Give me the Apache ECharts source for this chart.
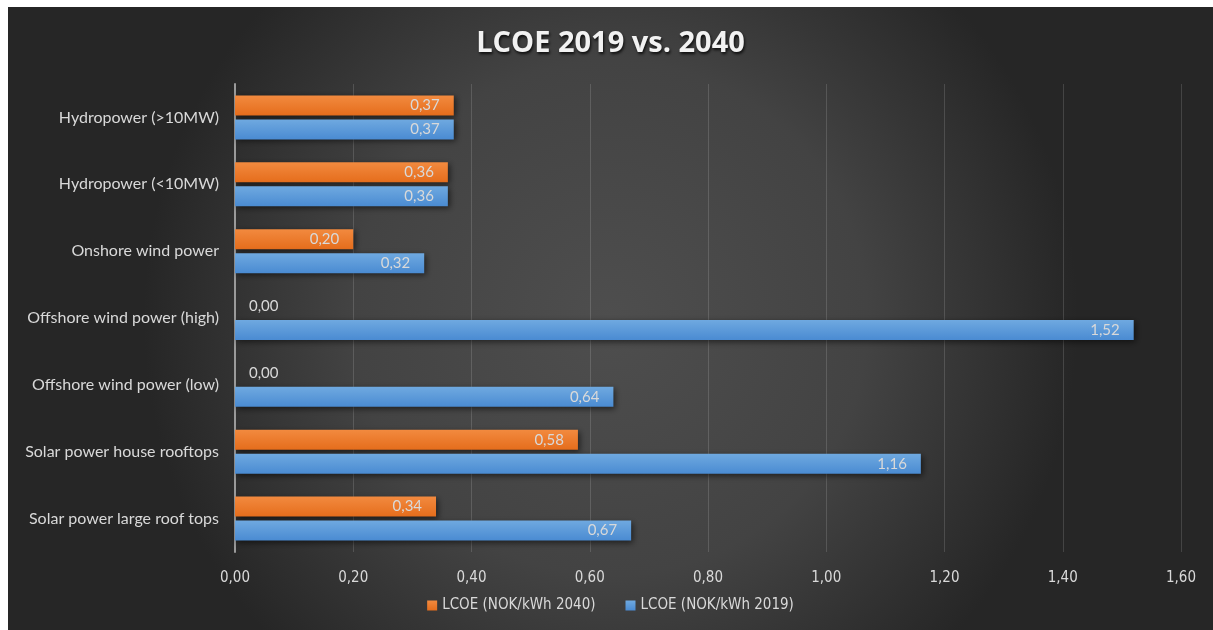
<!DOCTYPE html>
<html lang="en">
<head>
    <meta charset="UTF-8">
    <title>LCOE 2019 vs. 2040</title>
    <script src="https://cdn.jsdelivr.net/npm/echarts@6/dist/echarts.min.js"></script>
    <style>
        html, body { margin: 0; padding: 0; background: #ffffff; }
        #chart { position: absolute; left: 8px; top: 7px; width: 1205px; height: 623px; }
    </style>
</head>
<body>
<div id="chart"></div>
<script>
    // categories from top to bottom
    var categories = [
        'Hydropower (>10MW)',
        'Hydropower (<10MW)',
        'Onshore wind power',
        'Offshore wind power (high)',
        'Offshore wind power (low)',
        'Solar power house rooftops',
        'Solar power large roof tops'
    ]
    var lcoe2040 = [0.37, 0.36, 0.20, 0.00, 0.00, 0.58, 0.34]
    var lcoe2019 = [0.37, 0.36, 0.32, 1.52, 0.64, 1.16, 0.67]
    var xTicks = [0, 0.2, 0.4, 0.6, 0.8, 1.0, 1.2, 1.4, 1.6]

    var txt = '#d9d9d9'
    var narrow = '"DejaVu Sans Condensed", "Liberation Sans Narrow", Lato, sans-serif'
    var fmt = function (v) { return Number(v).toFixed(2).replace('.', ',') }

    function barData(values) {
        return values.map(function (v) {
            if (v === 0) {
                return { value: v, label: { position: 'right', distance: 14 } }
            }
            return v
        })
    }

    function grad(top, bottom) {
        return new echarts.graphic.LinearGradient(0, 0, 0, 1, [
            { offset: 0, color: top },
            { offset: 1, color: bottom }
        ])
    }

    var chart = echarts.init(document.getElementById('chart'))
    chart.setOption({
        backgroundColor: new echarts.graphic.RadialGradient(0.5, 0.5, 0.75, [
            { offset: 0, color: '#4e4e4e' },
            { offset: 0.55, color: '#434343' },
            { offset: 1, color: '#262626' }
        ]),
        title: {
            text: 'LCOE 2019 vs. 2040',
            left: 'center',
            top: 17,
            textStyle: {
                color: '#f2f2f2',
                fontFamily: 'Open Sans',
                fontWeight: 'bold',
                fontSize: 29,
                textShadowColor: 'rgba(0,0,0,0.8)',
                textShadowBlur: 3,
                textShadowOffsetX: 1,
                textShadowOffsetY: 2
            }
        },
        legend: {
            bottom: 12,
            left: 'center',
            itemWidth: 10,
            itemHeight: 10,
            itemGap: 30,
            icon: 'rect',
            textStyle: { color: txt, fontFamily: narrow, fontSize: 15 },
            data: ['LCOE (NOK/kWh 2040)', 'LCOE (NOK/kWh 2019)']
        },
        grid: { left: 227, right: 32, top: 77, bottom: 78, containLabel: false },
        xAxis: {
            type: 'value',
            min: xTicks[0],
            max: xTicks[xTicks.length - 1],
            interval: 0.2,
            axisLine: { show: false },
            axisTick: { show: false },
            splitLine: { lineStyle: { color: 'rgba(255,255,255,0.14)', width: 1 } },
            axisLabel: {
                color: txt,
                fontFamily: narrow,
                fontSize: 15,
                margin: 19,
                formatter: fmt
            }
        },
        yAxis: {
            type: 'category',
            inverse: true,
            data: categories,
            axisLine: { show: true, lineStyle: { color: '#9a9a9a', width: 2 } },
            axisTick: { show: false },
            axisLabel: {
                color: txt,
                fontFamily: 'Lato',
                fontSize: 16,
                margin: 16
            }
        },
        series: [
            {
                name: 'LCOE (NOK/kWh 2040)',
                type: 'bar',
                data: barData(lcoe2040),
                barWidth: 20,
                barGap: '20%',
                itemStyle: {
                    color: grad('#f28a3f', '#e56d1c'),
                    shadowColor: 'rgba(0,0,0,0.55)',
                    shadowBlur: 6,
                    shadowOffsetX: 2,
                    shadowOffsetY: 2
                },
                label: {
                    show: true,
                    position: 'insideRight',
                    distance: 14,
                    color: txt,
                    fontFamily: 'Lato',
                    fontSize: 15,
                    formatter: function (p) { return fmt(p.value) }
                }
            },
            {
                name: 'LCOE (NOK/kWh 2019)',
                type: 'bar',
                data: barData(lcoe2019),
                barWidth: 20,
                barGap: '20%',
                itemStyle: {
                    color: grad('#6fa9e0', '#4a8bd2'),
                    shadowColor: 'rgba(0,0,0,0.55)',
                    shadowBlur: 6,
                    shadowOffsetX: 2,
                    shadowOffsetY: 2
                },
                label: {
                    show: true,
                    position: 'insideRight',
                    distance: 14,
                    color: txt,
                    fontFamily: 'Lato',
                    fontSize: 15,
                    formatter: function (p) { return fmt(p.value) }
                }
            }
        ]
    })
</script>
</body>
</html>
